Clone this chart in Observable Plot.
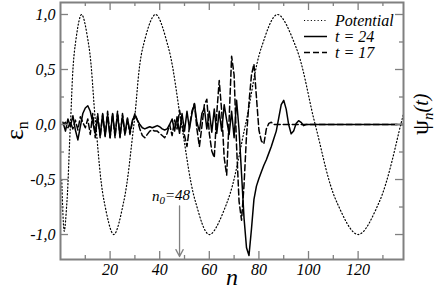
<!DOCTYPE html>
<html><head><meta charset="utf-8">
<script src="https://cdn.jsdelivr.net/npm/d3@7"></script>
<script src="https://cdn.jsdelivr.net/npm/@observablehq/plot@0.6"></script>
<style>body{margin:0;background:#fff} svg{display:block} svg text{font-family:"Liberation Serif","DejaVu Serif","Noto Serif",serif !important;}</style>
</head><body><div id="chart"></div>
<script>
// t = 24 (solid)
const nSolid = [1,2,3,4,5,6,7,8,9,10,11,12,13,14,15,16,17,18,19,20,21,22,23,24,25,26,27,28,29,30,31,32,33,34,35,36,37,38,39,40,41,42,43,44,45,46,47,48,49,50,51,52,53,54,55,56,57,58,59,60,61,62,63,64,65,66,67,68,69,70,71,72,73,74,75,76,77,78,79,80,81,82,83,84,85,86,87,88,89,90,91,92,93,94,95,96,97,98,99,100,138];
const vSolid = [0.02,-0.06,0.05,-0.02,0.08,-0.05,-0.14,-0.02,0.1,0.15,0.17,0.12,0.02,-0.08,0.06,-0.1,0.1,-0.11,0.09,-0.12,0.1,-0.1,0.1,-0.11,0.08,-0.08,0.06,-0.07,0.04,0.08,0.04,0.0,-0.03,-0.04,-0.03,-0.02,-0.03,-0.02,-0.01,-0.02,-0.04,-0.05,-0.04,0.0,0.05,-0.06,0.07,-0.08,0.1,-0.06,0.12,-0.04,0.1,0.19,0.02,-0.06,0.1,0.15,-0.04,0.12,-0.07,0.14,-0.08,0.12,-0.06,0.18,0.04,-0.09,0.12,-0.12,0.22,-0.05,-0.45,-0.85,-1.12,-1.19,-0.95,-0.68,-0.56,-0.49,-0.43,-0.37,-0.32,-0.26,-0.2,-0.13,-0.06,0.06,0.18,0.22,0.14,0.0,-0.085,-0.06,0.01,0.035,0.02,-0.01,0.0,0.0,0.0];
// t = 17 (dashed)
const nDashed = [1,2,3,4,5,6,7,8,9,10,11,12,13,14,15,16,17,18,19,20,21,22,23,24,25,26,27,28,29,30,31,32,33,34,35,36,37,38,39,40,41,42,43,44,45,46,47,48,49,50,51,52,53,54,55,56,57,58,59,60,61,62,63,64,65,66,67,68,69,70,71,72,73,74,75,76,77,78,79,80,81,82,83,84,85,86,87,138];
const vDashed = [0.0,0.02,-0.03,0.02,-0.04,0.04,-0.05,0.07,0.02,-0.03,0.05,-0.09,0.1,-0.12,0.1,-0.12,0.09,-0.1,0.12,-0.12,0.1,-0.12,0.12,-0.12,0.1,-0.1,0.05,-0.09,0.02,0.1,0.04,-0.04,-0.1,-0.12,-0.09,-0.06,-0.05,-0.06,-0.06,-0.08,-0.1,-0.12,-0.08,0.0,-0.1,0.04,-0.04,0.13,0.0,-0.1,-0.2,-0.02,0.12,0.19,-0.04,-0.2,-0.02,0.18,0.23,-0.08,-0.24,-0.3,0.1,0.4,0.12,-0.3,-0.46,0.05,0.62,0.45,-0.2,-0.7,-0.87,-0.55,-0.1,0.2,0.45,0.55,0.25,-0.05,-0.15,-0.175,-0.04,0.01,0.02,0.0,0.0,0.0];
// Potential (dotted), points
const nPot = [0.5,1.5,2.6,4.0,5.8,8.5,11.4,14.2,17.6,21.5,25.5,29.6,33.2,38.3,43.5,48.8,54.4,60,67.3,74.6,81,87.5,95,102.7,111.3,120,128.6,137.2,138.3];
const vPot = [-0.5,-0.97,-0.7,0,0.7,1.0,0.72,0,-0.7,-1.0,-0.7,0,0.7,1.0,0.7,0,-0.7,-1.0,-0.7,0,0.7,1.0,0.7,0,-0.7,-1.0,-0.7,0,0.1];
// ticks
const xMajor = [20,40,60,80,100,120];
const xMinor = [10,30,50,70,90,110,130];
const yMajor = [-1,-0.5,0,0.5,1];
const yMinor = [-0.75,-0.25,0.25,0.75];
const legendLabels = ["Potential","t = 24","t = 17"];
const n0 = 48;

const solid = nSolid.map((n,i)=>({n, v:vSolid[i]}));
const dashed = nDashed.map((n,i)=>({n, v:vDashed[i]}));
const pot = nPot.map((n,i)=>({n, v:vPot[i]}));

const serif = "Liberation Serif, DejaVu Serif, serif";
const fmt = d => (d<0?"-":"") + Math.abs(d).toFixed(1).replace(".", ",");
const W=436,H=292,ML=60,MR=33,MT=2,MB=33;
const fw = W-ML-MR, fh = H-MT-MB;
const gray = "#808080";
const DOT = "1.1,2.3";

const chart = Plot.plot({
  width: W, height: H,
  marginLeft: ML, marginRight: MR, marginTop: MT, marginBottom: MB,
  x: {domain: [0, 138.3]},
  y: {domain: [-1.227, 1.109]},
  style: {fontFamily: serif, fontStyle: "italic", fontSize: "16px", color: "black", background: "white"},
  marks: [
    Plot.line(pot, {x:"n", y:"v", curve:"catmull-rom", stroke:"black", strokeWidth:1.2, strokeDasharray:DOT}),
    Plot.line(dashed, {x:"n", y:"v", stroke:"black", strokeWidth:1.5, strokeDasharray:"6,3"}),
    Plot.line(solid, {x:"n", y:"v", stroke:"black", strokeWidth:1.5}),
    Plot.tickX(xMajor, {x:d=>d, stroke:gray, strokeWidth:1.3, insetTop: fh-8}),
    Plot.tickX(xMajor, {x:d=>d, stroke:gray, strokeWidth:1.3, insetBottom: fh-8}),
    Plot.tickX(xMinor, {x:d=>d, stroke:gray, strokeWidth:1.3, insetTop: fh-4}),
    Plot.tickX(xMinor, {x:d=>d, stroke:gray, strokeWidth:1.3, insetBottom: fh-4}),
    Plot.tickY(yMajor, {y:d=>d, stroke:gray, strokeWidth:1.3, insetRight: fw-8}),
    Plot.tickY(yMajor, {y:d=>d, stroke:gray, strokeWidth:1.3, insetLeft: fw-8}),
    Plot.tickY(yMinor, {y:d=>d, stroke:gray, strokeWidth:1.3, insetRight: fw-4}),
    Plot.tickY(yMinor, {y:d=>d, stroke:gray, strokeWidth:1.3, insetLeft: fw-4}),
    Plot.frame({stroke: gray, strokeWidth: 2}),
    Plot.axisX(xMajor, {anchor:"bottom", tickSize:0, tickPadding:4, label:null, tickFormat:d=>String(d)}),
    Plot.axisY(yMajor, {anchor:"left", tickSize:0, tickPadding:5, label:null, tickFormat:fmt}),
    Plot.arrow([{x:n0}], {x:"x", y1:-0.74, y2:-1.2, stroke:gray, strokeWidth:1.3, headLength:9, headAngle:55})
  ]
});
document.getElementById("chart").append(chart);

const svg = d3.select(chart);
const xs = chart.scale("x"), ys = chart.scale("y");

// y label left: epsilon_n
const gl = svg.append("text").attr("transform", `translate(23,${ys.apply(-0.06)}) rotate(-90)`)
  .attr("text-anchor","middle").attr("font-size", 26).attr("font-style","normal").attr("fill","black");
gl.append("tspan").text("ε");
gl.append("tspan").attr("font-size", 16).attr("dy", "0.3em").text("n");

// y label right: psi_n(t)
const gr = svg.append("text").attr("transform", `translate(428,${ys.apply(-0.1)}) rotate(-90)`)
  .attr("text-anchor","start").attr("font-size", 24).attr("font-style","normal").attr("fill","black");
gr.append("tspan").text("ψ");
gr.append("tspan").attr("font-size", 15).attr("font-style","italic").attr("dy","0.3em").text("n");
gr.append("tspan").attr("font-size", 20).attr("font-style","italic").attr("dy","-0.25em").text("(t)");

// x label
svg.append("text").attr("x", (ML + W - MR)/2 + 0.5).attr("y", 285).attr("text-anchor","middle")
  .attr("font-style","italic").attr("font-size", 24).attr("fill","black").text("n");

// annotation n0=48
const ga = svg.append("text").attr("x", xs.apply(n0) + 11).attr("y", 201).attr("text-anchor","end")
  .attr("font-style","italic").attr("font-size", 15).attr("fill","black");
ga.append("tspan").text("n");
ga.append("tspan").attr("font-size", 11).attr("dy","0.3em").text("0");
ga.append("tspan").attr("dy","-0.3em").text("=48");

// legend
const styles = [{dash:DOT, w:1.2},{dash:null, w:1.5},{dash:"6,3", w:1.5}];
const rowsY = [20.5, 36.5, 52.5];
legendLabels.forEach((lab,i)=>{
  const ln = svg.append("line").attr("x1",304).attr("x2",327).attr("y1",rowsY[i]).attr("y2",rowsY[i])
    .attr("stroke","black").attr("stroke-width",styles[i].w);
  if (styles[i].dash) ln.attr("stroke-dasharray", styles[i].dash);
  svg.append("text").attr("x",335).attr("y",rowsY[i]+5).attr("text-anchor","start").attr("font-style","italic")
    .attr("font-size",16).attr("fill","black").text(lab);
});
</script></body></html>
